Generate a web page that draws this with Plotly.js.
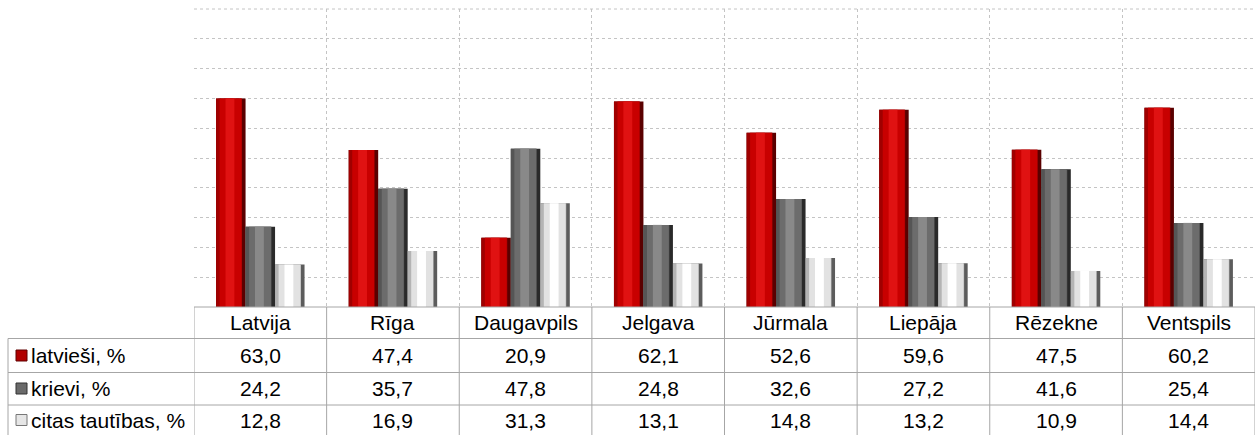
<!DOCTYPE html>
<html>
<head>
<meta charset="utf-8">
<script src="https://cdn.plot.ly/plotly-3.0.1.min.js"></script>
<style>html,body{margin:0;padding:0;background:#fff;}#chart{width:1256px;height:435px;}</style>
</head>
<body>
<div id="chart"></div>
<script>
// ---- data ----
const categories = ["Latvija", "Rīga", "Daugavpils", "Jelgava", "Jūrmala", "Liepāja", "Rēzekne", "Ventspils"];
const seriesNames = ["latvieši, %", "krievi, %", "citas tautības, %"];
const latviesi = [63.0, 47.4, 20.9, 62.1, 52.6, 59.6, 47.5, 60.2];
const krievi = [24.2, 35.7, 47.8, 24.8, 32.6, 27.2, 41.6, 25.4];
const citas = [12.8, 16.9, 31.3, 13.1, 14.8, 13.2, 10.9, 14.4];
const seriesValues = [latviesi, krievi, citas];

// ---- geometry (px) ----
const W = 1256, H = 435;
const plotL = 194, plotR = 1255, plotT = 9, plotB = 307;
const pw = plotR - plotL, ph = plotB - plotT;
const px2x = p => (p - plotL) / pw;
const px2y = p => (plotB - p) / ph;
const headerCenter = 322.5;
const rowLines = [338.5, 372.5, 405];
const rowCenters = [355.5, 388.5, 420];
const tableBottom = 440;
const leftColX = 8;
const FS = 21;
const FONT = "Liberation Sans, Arial";

const bargap = 0.333;
const slotW = (1 - bargap) / 3;

// bevel-like layers: [start, end, color] per series
const layers = [
  [[0, 1, "#5a0000"], [0, 0.88, "#a00000"], [0.12, 0.86, "#c80000"], [0.32, 0.62, "#e01212"]],
  [[0, 1, "#2a2a2a"], [0, 0.88, "#555555"], [0.12, 0.86, "#6c6c6c"], [0.32, 0.62, "#898989"]],
  [[0, 1, "#5c5c5c"], [0, 0.88, "#b4b4b4"], [0.12, 0.86, "#e2e2e2"], [0.32, 0.62, "#ffffff"]]
];

const traces = [];
seriesValues.forEach((vals, i) => {
  const slotStart = -(1 - bargap) / 2 + i * slotW;
  layers[i].forEach(([s, e, c]) => {
    traces.push({
      type: "bar",
      x: categories,
      y: vals,
      name: seriesNames[i],
      offset: slotStart + s * slotW,
      width: (e - s) * slotW,
      marker: { color: c, line: { width: 0 } },
      hoverinfo: "skip",
      showlegend: false
    });
  });
});

const gridCol = "#c4c4c4";
const tableCol = "#a6a6a6";
const shapes = [];
// table horizontal lines
shapes.push({ type: "line", xref: "paper", yref: "paper", x0: 0, x1: 1, y0: 0, y1: 0, line: { color: tableCol, width: 1 } });
rowLines.forEach(r => {
  shapes.push({ type: "line", xref: "paper", yref: "paper", x0: px2x(leftColX), x1: 1, y0: px2y(r), y1: px2y(r), line: { color: tableCol, width: 1 } });
});
// table vertical lines at category boundaries
for (let k = 0; k <= categories.length; k++) {
  shapes.push({ type: "line", xref: "x", yref: "paper", x0: k - 0.5, x1: k - 0.5, y0: 0, y1: px2y(tableBottom), line: { color: tableCol, width: 1 } });
}
shapes.push({ type: "line", xref: "paper", yref: "paper", x0: px2x(leftColX), x1: px2x(leftColX), y0: px2y(rowLines[0]), y1: px2y(tableBottom), line: { color: tableCol, width: 1 } });
// top grid line
shapes.push({ type: "line", xref: "paper", yref: "paper", x0: 0, x1: 1, y0: 1, y1: 1, line: { color: gridCol, width: 1, dash: "dot" } });

const annotations = [];
// header row: category labels
categories.forEach(c => {
  annotations.push({ xref: "x", yref: "paper", x: c, y: px2y(headerCenter), xanchor: "center", yanchor: "middle", text: c, showarrow: false, font: { family: FONT, size: FS, color: "#000" } });
});

// legend keys + value rows
const keyCols = [["#b00000", "#600000"], ["#6a6a6a", "#333333"], ["#e6e6e6", "#777777"]];
seriesNames.forEach((nm, i) => {
  const yc = rowCenters[i];
  shapes.push({ type: "rect", xref: "paper", yref: "paper", x0: px2x(16), x1: px2x(27), y0: px2y(yc - 5.5), y1: px2y(yc + 5.5), fillcolor: keyCols[i][0], line: { color: keyCols[i][1], width: 1 } });
  annotations.push({ xref: "paper", yref: "paper", x: px2x(29), y: px2y(yc), xanchor: "left", yanchor: "middle", text: nm, showarrow: false, font: { family: FONT, size: FS, color: "#000" } });
  seriesValues[i].forEach((v, j) => {
    annotations.push({ xref: "x", yref: "paper", x: categories[j], y: px2y(yc), xanchor: "center", yanchor: "middle", text: v.toFixed(1).replace(".", ","), showarrow: false, font: { family: FONT, size: FS, color: "#000" } });
  });
});

const layout = {
  width: W, height: H,
  margin: { l: plotL, r: W - plotR, t: plotT, b: H - plotB, pad: 0 },
  paper_bgcolor: "#fff", plot_bgcolor: "#fff",
  barmode: "overlay",
  showlegend: false,
  font: { family: FONT, size: FS, color: "#000" },
  xaxis: {
    type: "category", tickson: "boundaries", showgrid: true, gridcolor: gridCol, griddash: "dot",
    ticks: "", showline: false, zeroline: false, showticklabels: false,
    range: [-0.5, categories.length - 0.5], fixedrange: true
  },
  yaxis: {
    range: [0, 90], dtick: 9, tick0: 0, showticklabels: false, showgrid: true, gridcolor: gridCol, griddash: "dot",
    zeroline: false, showline: false, ticks: "", fixedrange: true
  },
  shapes: shapes,
  annotations: annotations
};

Plotly.newPlot("chart", traces, layout, { displayModeBar: false, staticPlot: true });
</script>
</body>
</html>
